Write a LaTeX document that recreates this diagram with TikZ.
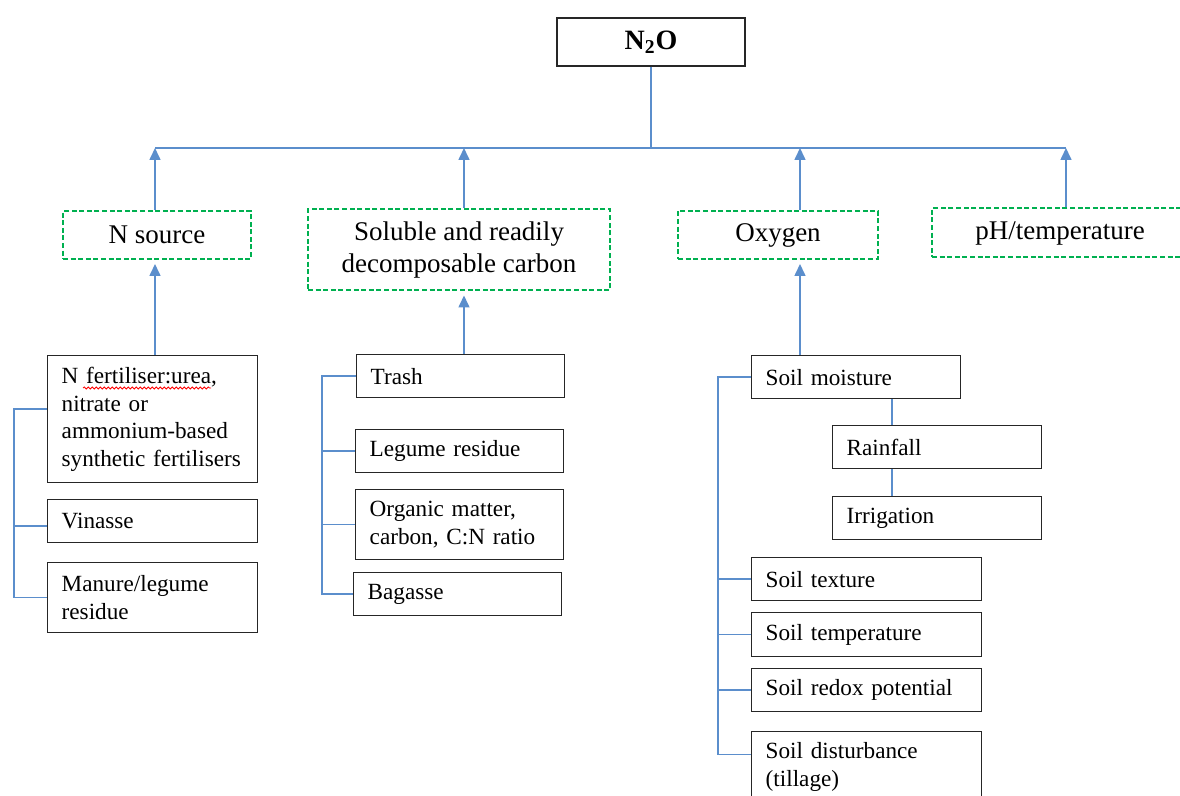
\documentclass[tikz,border=0pt]{standalone}
\usepackage{fontspec}
\setmainfont{Liberation Serif}
\usetikzlibrary{arrows.meta,decorations.pathmorphing}
\definecolor{linkblue}{RGB}{91,142,204}
\definecolor{dashgreen}{RGB}{0,176,80}
\tikzset{
  leaf/.style={draw=black!85, line width=0.7pt, anchor=north west, align=left, inner xsep=7pt, inner ysep=0pt, text width=91pt, minimum height=21.5pt, font=\fontsize{11.6}{13.8}\selectfont},
  factor/.style={draw=dashgreen, line width=1pt, dash pattern=on 2.5pt off 1.3pt, align=center, inner sep=0pt, minimum height=24pt, font=\fontsize{13.5}{16}\selectfont},
  link/.style={draw=linkblue, line width=0.8pt},
  uparrow/.style={link, -{Triangle[length=6pt,width=5.5pt]}},
  spell/.style={red, line width=0.4pt, decorate, decoration={snake, amplitude=0.5pt, segment length=2pt}}
}
\begin{document}
\begin{tikzpicture}[x=0.5pt, y=-0.5pt]
    \useasboundingbox (0,0) rectangle (1180,796);
    \clip (0,0) rectangle (1180,796);
    \node[draw=black!85, line width=0.7pt, minimum width=94pt, minimum height=24pt, font=\fontsize{14}{16}\selectfont\bfseries] (n2o) at (651,42) {N\textsubscript{2}O};
    \node[factor, minimum width=94pt] (nsrc) at (157,235) {N source};
    \node[factor, minimum width=151pt, minimum height=40.5pt] (carb) at (459,250) {Soluble and readily\\decomposable carbon};
    \node[factor, minimum width=100pt] (oxy) at (778,235) {Oxygen};
    \node[factor, minimum width=128pt, minimum height=24.5pt] (ph) at (1060,233) {pH/temperature};
    \coordinate (b1) at (155,148);
    \coordinate (b2) at (464,148);
    \coordinate (b3) at (800,148);
    \coordinate (b4) at (1066,148);
    \draw[link] (b1) -- (b4);
    \draw[link] (n2o.south) -- (n2o.south |- b1);
    \foreach \f/\b in {nsrc/b1, carb/b2, oxy/b3, ph/b4}
        \draw[uparrow] (\b |- \f.north) -- (\b);
    % N source
    \node[leaf, minimum height=63.5pt] (fert) at (47,355) {N fertiliser:urea,\\nitrate or\\ammonium-based\\synthetic fertilisers};
    \node[leaf] (vin) at (47,499) {Vinasse};
    \node[leaf, minimum height=35pt] (man) at (47,562) {Manure/legume\\residue};
    \draw[spell] ([shift={(36,33)}]fert.north west) -- ++(128,0);
    \draw[uparrow, shorten >=2pt] (fert.north -| b1) -- (b1 |- nsrc.south);
    \draw[link] ([yshift=5pt]fert.west) -- ++(-33,0) |- (man.west);
    \draw[link] ([yshift=-2.5pt]vin.west) -- ++(-33,0);
    % carbon
    \node[leaf, text width=90pt] (trash) at (356,354) {Trash};
    \node[leaf, text width=90pt] (leg) at (355,429) {Legume residue};
    \node[leaf, text width=90pt, minimum height=35pt] (org) at (355,489) {Organic matter,\\carbon, C:N ratio};
    \node[leaf, text width=90pt] (bag) at (353,572) {Bagasse};
    \draw[uparrow, shorten >=2pt] (trash.north -| b2) -- (b2 |- carb.south);
    \draw[link] (trash.west) -- ++(-34,0) |- (bag.west);
    \foreach \n in {leg,org}
        \draw[link] (\n.west) -- ++(-33,0);
    % oxygen
    \node[leaf, text width=90.5pt] (moist) at (751,355) {Soil moisture};
    \node[leaf, text width=90.5pt] (rain) at (832,425) {Rainfall};
    \node[leaf, text width=90.5pt] (irr) at (832,496) {Irrigation};
    \node[leaf, text width=101pt] (tex) at (751,557) {Soil texture};
    \node[leaf, text width=101pt, minimum height=22pt] (temp) at (751,612) {Soil temperature};
    \node[leaf, text width=101pt] (redox) at (751,668) {Soil redox potential};
    \node[leaf, text width=101pt, minimum height=35pt] (dist) at (751,731) {Soil disturbance\\(tillage)};
    \coordinate (mr) at (892,0);
    \draw[uparrow, shorten >=2pt] (moist.north -| b3) -- (b3 |- oxy.south);
    \draw[link] (moist.south -| mr) -- (rain.north -| mr);
    \draw[link] (rain.south -| mr) -- (irr.north -| mr);
    \draw[link] (moist.west) -- ++(-33,0) |- ([yshift=6pt]dist.west);
    \foreach \n in {tex,temp,redox}
        \draw[link] (\n.west) -- ++(-33,0);
\end{tikzpicture}
\end{document}
